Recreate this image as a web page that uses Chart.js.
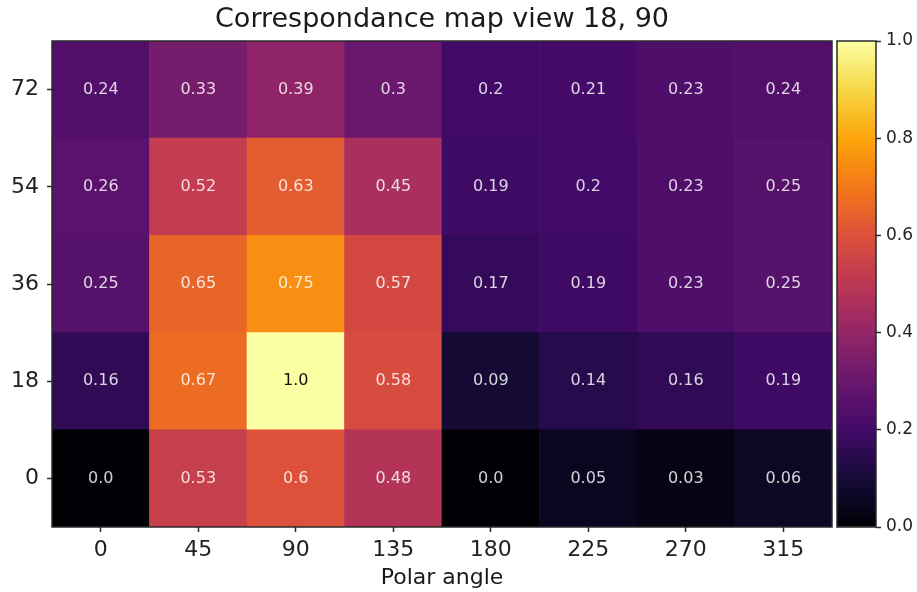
<!DOCTYPE html>
<html>
<head>
<meta charset="utf-8">
<style>
  html, body { margin: 0; padding: 0; background: #fff; }
  #wrap { position: relative; width: 917px; height: 592px; }
  #wrap canvas { position: absolute; left: 0; top: 0; }
</style>
</head>
<body>
<div id="wrap">
  <canvas id="heat" width="917" height="592"></canvas>
  <canvas id="cbar" width="917" height="592"></canvas>
</div>
<script src="https://cdn.jsdelivr.net/npm/chart.js@4"></script>
<script>
// polar angle columns, elevation rows (bottom to top)
var polarAngles = ['0', '45', '90', '135', '180', '225', '270', '315'];
var elevations = [0, 18, 36, 54, 72];
var row0  = [0.0, 0.53, 0.6, 0.48, 0.0, 0.05, 0.03, 0.06];
var row18 = [0.16, 0.67, 1.0, 0.58, 0.09, 0.14, 0.16, 0.19];
var row36 = [0.25, 0.65, 0.75, 0.57, 0.17, 0.19, 0.23, 0.25];
var row54 = [0.26, 0.52, 0.63, 0.45, 0.19, 0.2, 0.23, 0.25];
var row72 = [0.24, 0.33, 0.39, 0.3, 0.2, 0.21, 0.23, 0.24];
var rows = [row0, row18, row36, row54, row72];
var colorbarTicks = [0, 0.2, 0.4, 0.6, 0.8, 1.0];

var FONT = 'DejaVu Sans';

// inferno colormap, sampled every 0.1
var infernoStops = ['#000004', '#160b39', '#420a68', '#6a176e', '#932667',
                    '#bc3754', '#dd513a', '#f37819', '#fca50a', '#f6d746', '#fcffa4'];

function hexRgb(h) {
  return [parseInt(h.substr(1, 2), 16), parseInt(h.substr(3, 2), 16), parseInt(h.substr(5, 2), 16)];
}
function inferno(v) {
  v = Math.max(0, Math.min(1, v));
  var p = v * 10, i = Math.min(9, Math.floor(p)), t = p - i;
  var a = hexRgb(infernoStops[i]), b = hexRgb(infernoStops[i + 1]);
  var c = a.map(function (x, k) { return Math.round(x + (b[k] - x) * t); });
  return 'rgb(' + c.join(',') + ')';
}
function fmt(v) {
  return Number.isInteger(v) ? v.toFixed(1) : String(v);
}

// box around the plot area
var spines = {
  id: 'spines',
  afterDraw: function (chart) {
    var a = chart.chartArea, c = chart.ctx;
    c.save();
    c.strokeStyle = '#2a2a2a';
    c.lineWidth = 1.5;
    c.strokeRect(a.left, a.top, a.right - a.left, a.bottom - a.top);
    c.restore();
  }
};

// value written in every cell
var cellText = {
  id: 'cellText',
  afterDatasetsDraw: function (chart) {
    var c = chart.ctx;
    c.save();
    c.font = '16px "' + FONT + '"';
    c.textAlign = 'center';
    c.textBaseline = 'middle';
    chart.data.datasets.forEach(function (ds, di) {
      var meta = chart.getDatasetMeta(di);
      meta.data.forEach(function (bar, i) {
        var v = ds.values[i];
        c.fillStyle = v > 0.85 ? '#111' : 'rgba(255,255,255,0.82)';
        c.fillText(fmt(v), bar.x, (bar.y + bar.base) / 2);
      });
    });
    c.restore();
  }
};

var half = 9;
var datasets = rows.map(function (vals, r) {
  var y = elevations[r];
  return {
    label: String(y),
    values: vals,
    data: vals.map(function () { return [y - half, y + half]; }),
    backgroundColor: vals.map(inferno),
    borderWidth: 0,
    grouped: false,
    barPercentage: 1,
    categoryPercentage: 1
  };
});

new Chart(document.getElementById('heat'), {
  type: 'bar',
  data: { labels: polarAngles, datasets: datasets },
  options: {
    responsive: false,
    animation: false,
    layout: { padding: { right: 85 } },
    plugins: {
      legend: { display: false },
      tooltip: { enabled: false },
      title: {
        display: true,
        text: 'Correspondance map view 18, 90',
        fullSize: false,
        color: '#1a1a1a',
        font: { family: FONT, size: 27, weight: 'normal', lineHeight: 1.2 },
        padding: { top: 4, bottom: 4.6 }
      }
    },
    scales: {
      x: {
        offset: true,
        grid: { offset: false, drawOnChartArea: false, drawTicks: true, tickLength: 5, tickColor: '#2a2a2a', tickWidth: 1.5 },
        border: { display: false },
        ticks: { color: '#222', padding: 5, font: { family: FONT, size: 22 } },
        title: { display: true, text: 'Polar angle', color: '#1a1a1a', padding: { top: 0, bottom: 1 },
                 font: { family: FONT, size: 22, lineHeight: 1.2 } },
        afterFit: function (s) { s.height = 65; }
      },
      y: {
        min: -half,
        max: elevations[elevations.length - 1] + half,
        afterBuildTicks: function (s) { s.ticks = elevations.map(function (v) { return { value: v }; }); },
        grid: { drawOnChartArea: false, drawTicks: true, tickLength: 5, tickColor: '#2a2a2a', tickWidth: 1.5 },
        border: { display: false },
        ticks: { color: '#222', padding: 8, font: { family: FONT, size: 22 } },
        afterFit: function (s) { s.width = 52; }
      }
    }
  },
  plugins: [cellText, spines]
});

// colorbar
new Chart(document.getElementById('cbar'), {
  type: 'bar',
  data: {
    labels: [''],
    datasets: [{
      data: [[0, 1]],
      borderWidth: 0,
      barPercentage: 1,
      categoryPercentage: 1,
      backgroundColor: function (ctx) {
        var a = ctx.chart.chartArea;
        if (!a) return '#000';
        var g = ctx.chart.ctx.createLinearGradient(0, a.bottom, 0, a.top);
        infernoStops.forEach(function (col, i) { g.addColorStop(i / 10, col); });
        return g;
      }
    }]
  },
  options: {
    responsive: false,
    animation: false,
    layout: { padding: { left: 837, top: 41, bottom: 65 } },
    plugins: { legend: { display: false }, tooltip: { enabled: false } },
    scales: {
      x: { display: false },
      y: {
        position: 'right',
        min: 0,
        max: 1,
        afterBuildTicks: function (s) { s.ticks = colorbarTicks.map(function (v) { return { value: v }; }); },
        grid: { drawOnChartArea: false, drawTicks: true, tickLength: 5, tickColor: '#2a2a2a', tickWidth: 1.5 },
        border: { display: false },
        ticks: { color: '#222', padding: 5, font: { family: FONT, size: 17 },
                 callback: function (v) { return v.toFixed(1); } },
        afterFit: function (s) { s.width = 41; }
      }
    }
  },
  plugins: [spines]
});
</script>
</body>
</html>
